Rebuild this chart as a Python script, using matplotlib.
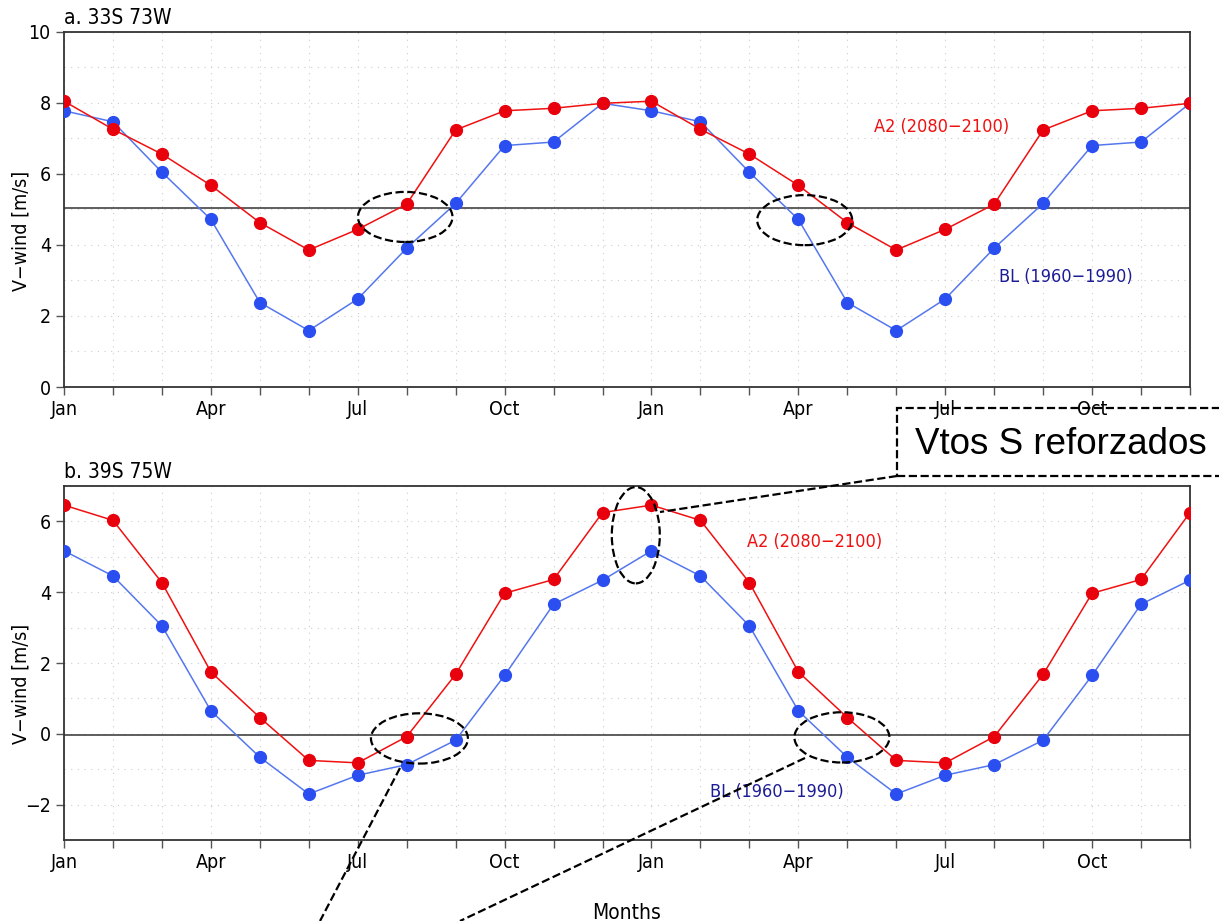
import numpy as np
import matplotlib
matplotlib.use("Agg")
import matplotlib.pyplot as plt
from matplotlib.patches import Ellipse, Rectangle
from matplotlib.lines import Line2D

# dados (V-wind mensal, Jan..Dez, repetido 2x)
months = ['Jan', 'Feb', 'Mar', 'Apr', 'May', 'Jun',
          'Jul', 'Aug', 'Sep', 'Oct', 'Nov', 'Dec']
a2_33s = [8.05, 7.26, 6.56, 5.68, 4.63, 3.86, 4.44, 5.15, 7.24, 7.78, 7.85, 7.99]
bl_33s = [7.78, 7.47, 6.05, 4.72, 2.38, 1.59, 2.48, 3.91, 5.17, 6.80, 6.90, 7.99]
a2_39s = [6.46, 6.03, 4.27, 1.75, 0.46, -0.75, -0.82, -0.08, 1.68, 3.97, 4.36, 6.25]
bl_39s = [5.17, 4.46, 3.05, 0.65, -0.66, -1.70, -1.17, -0.87, -0.18, 1.65, 3.66, 4.34]
ref_line = [5.05, -0.03]
titles = ['a. 33S 73W', 'b. 39S 75W']
ylims = [(0, 10), (-3, 7)]

red = '#f01010'
blue = '#2a4ef0'
navy = '#1c1c96'
plt.rcParams['font.family'] = ['DejaVu Sans']
plt.rcParams['font.stretch'] = 'condensed'

x = np.arange(24)
labels = [m if i % 3 == 0 else '' for i, m in enumerate(months * 2)]

fig = plt.figure(figsize=(12.19, 9.21), dpi=100)
ax1 = fig.add_axes([0.0525, 0.5798, 0.9237, 0.3855])
ax2 = fig.add_axes([0.0525, 0.0879, 0.9237, 0.3844])

data = [(a2_33s, bl_33s), (a2_39s, bl_39s)]
for k, ax in enumerate([ax1, ax2]):
    a2, bl = data[k]
    ax.plot(x, bl * 2, color='#5577ee', lw=1.1, zorder=3)
    ax.plot(x, bl * 2, 'o', color=blue, ms=8.5, zorder=4)
    ax.plot(x, a2 * 2, color=red, lw=1.1, zorder=3)
    ax.plot(x, a2 * 2, 'o', color='#e8000c', ms=8.5, zorder=5)
    ax.axhline(ref_line[k], color='#333333', lw=1.1, zorder=2)
    ax.set_xlim(0, 23)
    ax.set_ylim(*ylims[k])
    ax.set_xticks(x)
    ax.set_xticklabels(labels, fontsize=13)
    ax.set_yticks(np.arange(ylims[k][0], ylims[k][1] + 1, 2) if k == 0 else [-2, 0, 2, 4, 6])
    ax.set_yticks(np.arange(ylims[k][0], ylims[k][1] + 1, 1), minor=True)
    ax.tick_params(axis='both', labelsize=14, length=6, width=1, color='#555555')
    ax.tick_params(axis='y', which='minor', length=0)
    ax.grid(True, which='both', color='#cccccc', lw=0.8, ls=(0, (1, 5)))
    for s in ax.spines.values():
        s.set_color('#333333')
        s.set_linewidth(1.3)
    ax.set_ylabel('V\u2212wind [m/s]', fontsize=14)
    ax.yaxis.set_label_coords(-0.03, 0.44)
    ax.set_title(titles[k], loc='left', fontsize=15, pad=6)

ax2.set_xlabel('Months', fontsize=15, labelpad=22)

# legendas no texto
ax1.text(16.55, 7.32, 'A2 (2080\u22122100)', color=red, fontsize=13, va='center')
ax1.text(19.1, 3.1, 'BL (1960\u22121990)', color=navy, fontsize=13, va='center')
ax2.text(13.95, 5.41, 'A2 (2080\u22122100)', color=red, fontsize=13, va='center')
ax2.text(13.2, -1.63, 'BL (1960\u22121990)', color=navy, fontsize=13, va='center')

# elipses tracejadas
ell = dict(fill=False, ls='--', lw=1.6, ec='black', zorder=6)
ax1.add_patch(Ellipse((6.97, 4.79), 1.93, 1.41, **ell))
ax1.add_patch(Ellipse((15.13, 4.70), 1.94, 1.41, **ell))
ax2.add_patch(Ellipse((7.26, -0.13), 1.98, 1.42, **ell))
ax2.add_patch(Ellipse((15.89, -0.10), 1.94, 1.42, **ell))
ax2.add_patch(Ellipse((11.68, 5.61), 0.98, 2.72, **ell))

# caixa e linhas de chamada (coordenadas da figura)
W, H = 1219.0, 921.0
def fx(px, py):
    return px / W, 1 - py / H

box = Rectangle(fx(897, 476), (1230 - 897) / W, (476 - 408) / H,
                transform=fig.transFigure, fill=False,
                ec='black', ls='--', lw=1.6, zorder=10)
fig.patches.append(box)
fig.text(*fx(915, 444), 'Vtos S reforzados', fontsize=26.5, stretch='normal',
         family=['Liberation Sans', 'DejaVu Sans'], va='center', zorder=11)

for p0, p1 in [((897, 476), (660, 512)), ((400, 768), (320, 921)), ((805, 758), (460, 921))]:
    (x0, y0), (x1, y1) = fx(*p0), fx(*p1)
    fig.lines.append(Line2D([x0, x1], [y0, y1], transform=fig.transFigure,
                            color='black', ls='--', lw=1.6, zorder=10))

fig.savefig('out.png', dpi=100)
